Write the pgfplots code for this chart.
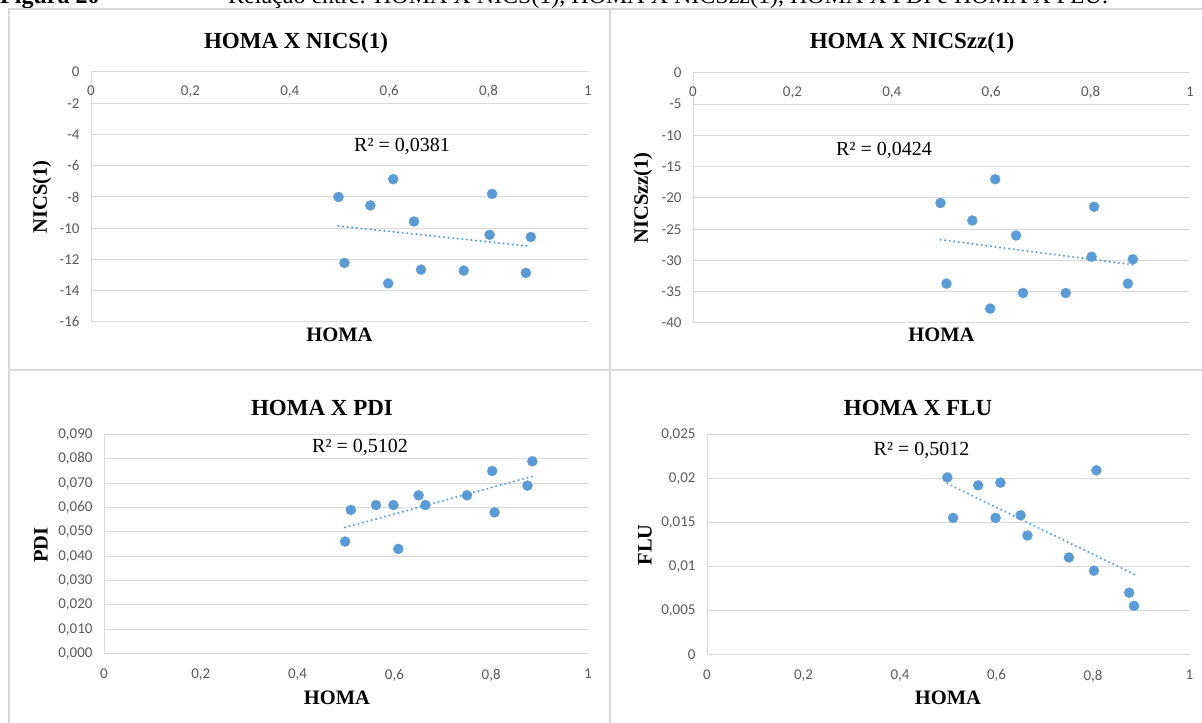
\documentclass[border=0pt]{standalone}
\usepackage{pgfplots}
\pgfplotsset{compat=1.18}
\usepackage{fontspec}
\setmainfont{Liberation Serif}
\newfontfamily\calib{Carlito}
\definecolor{pt}{HTML}{5B9BD5}
\definecolor{gridc}{HTML}{D9D9D9}
\definecolor{tickc}{HTML}{595959}
\definecolor{bord}{HTML}{D9D9D9}

\pgfplotstableread{
homa nics nicszz pdi flu
0.498 -8.00 -20.8 0.046 0.0201
0.510 -12.22 -33.7 0.059 0.0155
0.562 -8.54 -23.6 0.061 0.0192
0.598 -13.53 -37.7 0.061 0.0155
0.608 -6.86 -17.0 0.043 0.0195
0.650 -9.57 -26.0 0.065 0.0158
0.664 -12.65 -35.2 0.061 0.0135
0.750 -12.71 -35.2 0.065 0.0110
0.802 -10.42 -29.4 0.075 0.0095
0.807 -7.80 -21.4 0.058 0.0209
0.875 -12.86 -33.7 0.069 0.0070
0.885 -10.56 -29.8 0.079 0.0055
}\data

\pgfplotsset{
  panel/.style={
    scale only axis, anchor=south west,
    xmin=0, xmax=1, xtick={0,0.2,0.4,0.6,0.8,1},
    axis y line*=left,
    axis line style={draw=gridc, line width=1bp},
    ymajorgrids, grid style={draw=gridc, line width=1bp},
    tick style={draw=none},
    ticklabel style={font=\calib\fontsize{15bp}{17bp}\selectfont, text=tickc},
    /pgf/number format/assume math mode=true,
    /pgf/number format/use comma,
    scaled y ticks=false, scaled x ticks=false,
    yticklabel style={xshift=-8bp},
    clip=false,
  },
  pts/.style={only marks, mark=*, mark size=5bp, mark options={fill=pt, draw=pt}},
  trend/.style={pt, line width=2.3bp, dash pattern=on 0.01bp off 4.6bp, line cap=round},
}

\newcommand\ttl{\fontsize{23bp}{27bp}\selectfont\bfseries}
\newcommand\lab{\fontsize{20.5bp}{24bp}\selectfont\bfseries}
\newcommand\rsq{\fontsize{20bp}{24bp}\selectfont}

\begin{document}
\begin{tikzpicture}[x=1bp,y=1bp]
\useasboundingbox (0,0) rectangle (1202,723);
\begin{scope}
\clip (0,0) rectangle (1202,723);
\node[anchor=base west, inner sep=0, font=\fontsize{24bp}{28bp}\selectfont] at (0,719) {\textbf{Figura 20}};
\node[anchor=base west, inner sep=0, font=\fontsize{24bp}{28bp}\selectfont] at (228,719) {Relação entre: HOMA X NICS(1), HOMA X NICSzz(1), HOMA X PDI e HOMA X FLU.};
\end{scope}
% panel borders
\draw[bord, line width=1.5bp] (9,0) -- (9,714) -- (1202,714);
\draw[bord, line width=1.5bp] (610,0) -- (610,714);
\draw[bord, line width=1.5bp] (9,353) -- (1202,353);

% top-left
\begin{axis}[panel, at={(91bp,401bp)}, width=497bp, height=250bp,
  ymin=-16, ymax=0, ytick={-16,-14,...,0},
  axis x line*=top, xticklabel style={anchor=north, yshift=-10bp}]
\addplot[pts] table[x=homa, y=nics] {\data};
\addplot[trend] coordinates {(0.498,-9.86) (0.885,-11.16)};
\end{axis}
% top-right
\begin{axis}[panel, at={(693bp,400bp)}, width=497bp, height=250bp,
  ymin=-40, ymax=0, ytick={-40,-35,...,0},
  axis x line*=top, xticklabel style={anchor=north, yshift=-10bp}]
\addplot[pts] table[x=homa, y=nicszz] {\data};
\addplot[trend] coordinates {(0.498,-26.68) (0.885,-30.67)};
\end{axis}
% bottom-left
\begin{axis}[panel, at={(104bp,69.5bp)}, width=484bp, height=219bp,
  ymin=0, ymax=0.09, ytick={0,0.01,0.02,0.03,0.04,0.05,0.06,0.07,0.08,0.09},
  axis x line*=bottom, xticklabel style={yshift=-12bp},
  yticklabel style={/pgf/number format/fixed, /pgf/number format/fixed zerofill, /pgf/number format/precision=3}]
\addplot[pts] table[x=homa, y=pdi] {\data};
\addplot[trend] coordinates {(0.498,0.0518) (0.885,0.0728)};
\end{axis}
% bottom-right
\begin{axis}[panel, at={(707bp,68.7bp)}, width=482.5bp, height=220bp,
  ymin=0, ymax=0.025, ytick={0,0.005,0.01,0.015,0.02,0.025},
  axis x line*=bottom, xticklabel style={yshift=-12bp},
  yticklabel style={/pgf/number format/fixed, /pgf/number format/precision=3}]
\addplot[pts] table[x=homa, y=flu] {\data};
\addplot[trend] coordinates {(0.498,0.0194) (0.885,0.0091)};
\end{axis}

% titles
\node[font=\ttl] at (296,680) {HOMA X NICS(1)};
\node[font=\ttl] at (912,680) {HOMA X NICSzz(1)};
\node[font=\ttl] at (322,315) {HOMA X PDI};
\node[font=\ttl] at (918,315) {HOMA X FLU};
% axis labels
\node[font=\lab] at (339.5,388) {HOMA};
\node[font=\lab] at (941.5,388) {HOMA};
\node[font=\lab] at (337,25) {HOMA};
\node[font=\lab] at (948,25) {HOMA};
\node[font=\lab, rotate=90] at (42,526) {NICS(1)};
\node[font=\lab, rotate=90] at (643,525) {NICSzz(1)};
\node[font=\lab, rotate=90] at (41,178) {PDI};
\node[font=\lab, rotate=90] at (645,178) {FLU};
% R2
\node[font=\rsq] at (402,577) {R² = 0,0381};
\node[font=\rsq] at (884,573) {R² = 0,0424};
\node[font=\rsq] at (360,276) {R² = 0,5102};
\node[font=\rsq] at (921.5,273) {R² = 0,5012};
\end{tikzpicture}
\end{document}
